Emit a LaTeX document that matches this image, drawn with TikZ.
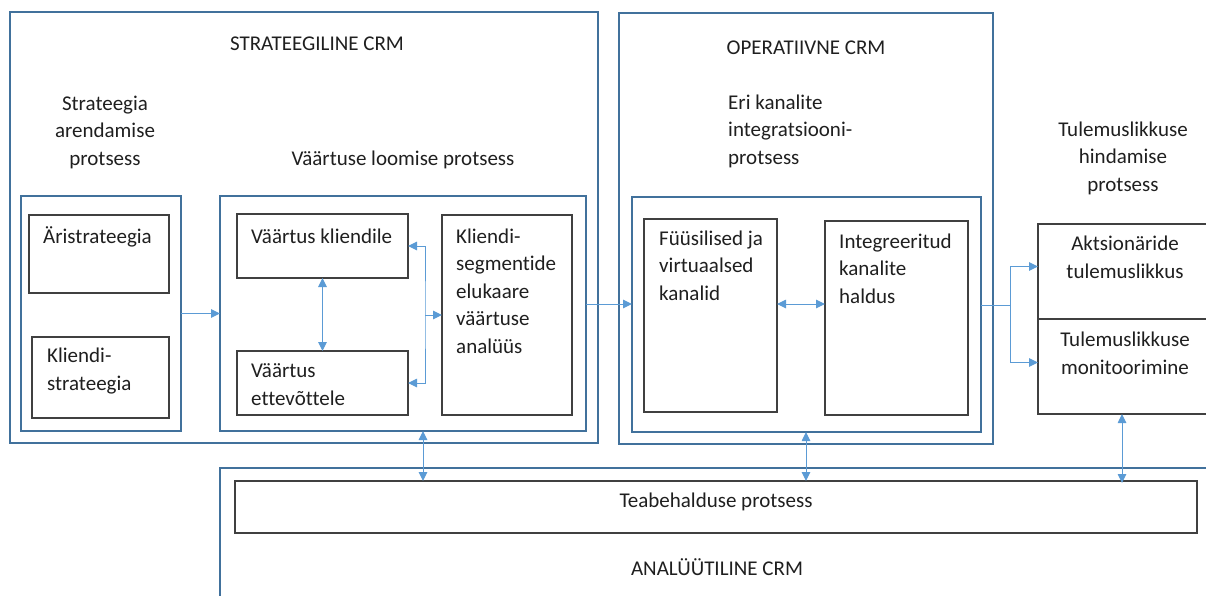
\documentclass[tikz,border=0pt]{standalone}
\usepackage{fontspec}
\setmainfont{Carlito}[Ligatures={NoCommon}]
\usetikzlibrary{arrows.meta,calc,fit}
\definecolor{frameblue}{HTML}{41719C}
\definecolor{linkblue}{HTML}{5B9BD5}
\definecolor{boxgray}{HTML}{404040}
\begin{document}
\begin{tikzpicture}[x=1pt,y=-1pt,
  frame/.style={draw=frameblue, line width=1.8pt, inner sep=0pt, outer sep=0pt},
  cell/.style={draw=boxgray, line width=1.1pt, fill=white, inner sep=0pt, outer sep=0pt},
  tip/.tip={Triangle[length=9pt,width=8.5pt]},
  link/.style={draw=linkblue, line width=1pt, -tip},
  twoway/.style={draw=linkblue, line width=1pt, tip-tip},
  txt/.style={font=\fontsize{21}{27.5}\selectfont, inner sep=0pt, text=black!88},
]
\useasboundingbox (0,0) rectangle (1206,595);
\clip (0,0) rectangle (1206,595);

% strategic CRM
\node[frame, fit={(10,12) (598,443)}] (strat) {};
\node[frame, fit={(21,196) (181,431)}] (stratdev) {};
\node[cell, fit={(29,215) (169,293)}] (aristr) {};
\node[cell, fit={(32,337) (169,418)}] (klstr) {};
\node[frame, fit={(220,196) (586,431)}] (value) {};
\node[cell, fit={(237,214) (408,278)}] (vkl) {};
\node[cell, fit={(237,351) (408,415)}] (vett) {};
\node[cell, fit={(442,215) (572,415)}] (ksegm) {};

% operational CRM
\node[frame, fit={(619,13) (993,444)}] (oper) {};
\node[frame, fit={(632,197) (981,432)}] (operin) {};
\node[cell, fit={(644,219) (777,412)}] (fvk) {};
\node[cell, fit={(825,221) (968,415)}] (ikh) {};

% performance evaluation
\node[cell, fit={(1038,224) (1215,319)}] (akt) {};
\node[cell, fit={(1038,319) (1215,414)}] (mon) {};

% analytical CRM
\node[frame, fit={(220,468) (1220,610)}] (anal) {};
\node[cell, fit={(235,481) (1197,533)}] (teabe) {};

% labels (multi-line labels are placed by the baseline of their last line)
\node[txt, anchor=base] (tstrat) at (317,50) {STRATEEGILINE CRM};
\node[txt, anchor=base, align=center] (tdev) at (105,165) {Strateegia\\arendamise\\protsess};
\node[txt, anchor=base] (tval) at (403,165) {Väärtuse loomise protsess};
\node[txt, anchor=base] (toper) at (806,54) {OPERATIIVNE CRM};
\node[txt, anchor=base west, align=left] (tint) at (728,164) {Eri kanalite\\integratsiooni-\\protsess};
\node[txt, anchor=base, align=center] (teval) at (1123,191) {Tulemuslikkuse\\hindamise\\protsess};

\node[txt, anchor=base west] (taristr) at (43,243) {Äristrateegia};
\node[txt, anchor=base west, align=left] (tklstr) at (47,390) {Kliendi-\\strateegia};
\node[txt, anchor=base west] (tvkl) at (251,243) {Väärtus kliendile};
\node[txt, anchor=base west, align=left] (tvett) at (251,405) {Väärtus\\ettevõttele};
\node[txt, anchor=base west, align=left] (tksegm) at (456,353) {Kliendi-\\segmentide\\elukaare\\väärtuse\\analüüs};
\node[txt, anchor=base west, align=left] (tfvk) at (659,300) {Füüsilised ja\\virtuaalsed\\kanalid};
\node[txt, anchor=base west, align=left] (tikh) at (839,303) {Integreeritud\\kanalite\\haldus};
\node[txt, anchor=base, align=center] (takt) at (1125,278) {Aktsionäride\\tulemuslikkus};
\node[txt, anchor=base, align=center] (tmon) at (1125,374) {Tulemuslikkuse\\monitoorimine};
\node[txt, anchor=base] (tteabe) at (716,507) {Teabehalduse protsess};
\node[txt, anchor=base] (tanal) at (717,575) {ANALÜÜTILINE CRM};

% connectors
\coordinate (row) at (0,304);
\coordinate (fork) at (425,315);
\coordinate (split) at (1010,305);
\coordinate (col1) at (423,0);
\coordinate (col2) at (806,0);
\coordinate (col3) at (1122,0);

\draw[link] (stratdev.east) -- (value.west);
\draw[twoway] (vkl.south) -- (vkl.south |- vett.north);
\draw[twoway] (vkl.east) -| (fork) |- (vett.east);
\draw[link] (fork) -- (ksegm.west);
\draw[link] (value.east |- row) -- (operin.west |- row);
\draw[twoway] (fvk.east |- row) -- (ikh.west |- row);
\draw[draw=linkblue, line width=1pt] (operin.east |- split) -- (split);
\draw[link] (split) |- ($(akt.west)+(0,-5)$);
\draw[link] (split) |- ($(mon.west)+(0,-4)$);
\draw[twoway] (value.south -| col1) -- (teabe.north -| col1);
\draw[twoway] (operin.south -| col2) -- (teabe.north -| col2);
\draw[twoway] (mon.south -| col3) -- ($(teabe.north -| col3)+(0,2)$);
\end{tikzpicture}
\end{document}
